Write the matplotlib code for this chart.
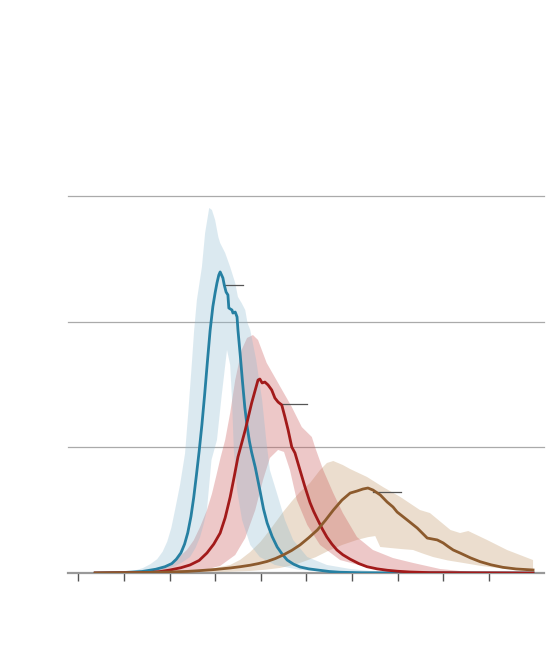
import matplotlib
matplotlib.use("Agg")
import matplotlib.pyplot as plt

# ---------------- data (x = day, y = value) ----------------
blue_x = [3.7, 10.0, 14.0, 17.0, 19.0, 20.5, 21.5, 22.5, 23.3, 24.0, 24.7, 25.3, 25.9, 26.5,
          27.1, 27.7, 28.3, 28.9, 29.5, 30.0, 30.4, 30.8, 31.1, 31.7, 32.0, 32.4, 32.8, 33.0,
          33.7, 33.9, 34.4, 34.8, 35.0, 35.5, 36.0, 36.5, 37.0, 37.5, 38.0, 38.8, 39.8, 40.6,
          41.4, 42.5, 43.6, 44.7, 45.8, 47.2, 48.6, 50.5, 52.4, 55.0, 57.4, 62.0, 99.7]
blue_y = [0, 0.04, 0.12, 0.30, 0.50, 0.75, 1.10, 1.60, 2.30, 3.20, 4.50, 6.00, 7.80, 9.70,
          11.8, 14.2, 16.8, 19.3, 21.2, 22.3, 23.07, 23.7, 23.95, 23.47, 22.91, 22.35, 22.12, 21.08,
          20.92, 20.68, 20.76, 20.37, 19.33, 17.34, 15.2, 13.2, 11.7, 10.5, 9.6, 8.4, 6.6, 5.1,
          3.98, 2.9, 2.07, 1.5, 1.03, 0.7, 0.48, 0.33, 0.24, 0.12, 0.06, 0.02, 0]

blue_up_x = [7.0, 10.0, 12.5, 14.2, 15.8, 17.3, 18.5, 19.5, 20.4, 21.2, 22.3, 23.4, 24.1, 24.9,
             25.4, 26.0, 27.1, 27.8, 28.7, 29.3, 30.0, 30.7, 31.1, 32.2, 33.3, 34.4, 35.0, 35.8,
             36.6, 37.1, 37.7, 39.0, 40.3, 41.2, 42.0, 43.8, 45.3, 47.1, 50.2, 54.5, 59.6, 66.2, 74.9]
blue_up_y = [0, 0.05, 0.2, 0.4, 0.7, 1.1, 1.7, 2.5, 3.6, 5.0, 7.0, 9.5, 12.73, 16.71,
             19.33, 21.72, 24.34, 27.05, 29.04, 28.88, 28.08, 26.73, 26.25, 25.46, 24.34, 23.07, 21.96, 21.48,
             20.92, 19.89, 19.33, 16.95, 13.76, 10.58, 8.19, 6.05, 4.22, 2.63, 1.27, 0.64, 0.32, 0.08, 0]
blue_lo_x = [11.3, 15.7, 18.5, 20.8, 22.8, 24.5, 25.7, 26.7, 27.5, 28.2, 29.2, 30.4, 31.4, 32.6,
             33.3, 33.7, 34.1, 34.8, 35.9, 37.7, 39.8, 43.1, 48.6, 57.4, 74.9]
blue_lo_y = [0, 0.08, 0.25, 0.48, 0.85, 1.27, 2.0, 2.86, 3.9, 5.01, 8.99, 10.58, 14.0, 17.74,
             16.55, 13.76, 9.79, 6.60, 4.22, 2.23, 1.27, 0.64, 0.24, 0.04, 0]

red_x = [3.7, 15.7, 18.0, 20.1, 22.5, 24.5, 26.5, 28.2, 29.7, 31.1, 32.2, 33.3, 34.2, 35.0,
         35.8, 36.6, 38.0, 39.4, 39.8, 40.3, 40.9, 41.6, 42.4, 43.1, 43.8, 44.6, 45.3, 46.0,
         46.8, 47.5, 48.6, 49.7, 50.8, 51.6, 52.4, 53.5, 54.5, 55.6, 56.7, 58.0, 59.6, 61.5,
         63.3, 65.5, 67.7, 70.0, 72.7, 77.0, 99.7]
red_y = [0, 0.04, 0.12, 0.24, 0.42, 0.64, 1.0, 1.59, 2.3, 3.18, 4.4, 6.05, 7.7, 9.23,
         10.3, 11.38, 13.52, 15.35, 15.43, 15.12, 15.19, 14.96, 14.56, 13.92, 13.60, 13.37, 12.41, 11.38,
         10.02, 9.55, 8.19, 6.84, 5.6, 4.9, 4.3, 3.5, 2.86, 2.3, 1.83, 1.45, 1.1, 0.75,
         0.5, 0.33, 0.22, 0.14, 0.08, 0.03, 0]

red_up_x = [11.3, 14.0, 15.7, 17.2, 18.6, 20.0, 21.2, 22.5, 23.8, 25.3, 26.7, 28.2, 29.3, 30.3,
            31.2, 32.2, 33.3, 34.4, 35.8, 37.0, 38.3, 39.4, 41.3, 43.8, 46.8, 49.0, 51.2, 51.9,
            53.7, 55.9, 58.0, 61.1, 64.6, 69.0, 73.4, 79.3, 85.9, 92.4]
red_up_y = [0, 0.08, 0.16, 0.3, 0.48, 0.72, 1.03, 1.4, 1.83, 2.6, 3.66, 5.0, 6.3, 7.8,
            9.2, 10.58, 12.73, 15.35, 17.74, 18.7, 18.93, 18.54, 16.71, 15.12, 13.21, 11.61, 10.82, 10.02,
            8.19, 6.36, 4.77, 2.86, 1.83, 1.19, 0.80, 0.32, 0.08, 0]
red_lo_x = [20.1, 26.7, 31.1, 34.4, 36.6, 38.8, 40.5, 42.0, 43.8, 45.1, 46.4, 47.9, 50.2, 53.0,
            57.4, 63.9, 72.7, 81.6]
red_lo_y = [0, 0.16, 0.56, 1.43, 2.78, 5.01, 7.40, 9.15, 9.79, 9.63, 8.19, 5.81, 3.82, 2.23,
            1.03, 0.40, 0.08, 0]

brown_x = [3.7, 15.0, 20.1, 24.0, 27.0, 30.0, 33.3, 35.5, 37.7, 39.5, 41.4, 43.2, 44.9, 46.8,
           48.6, 50.5, 52.4, 54.2, 55.9, 57.8, 59.6, 61.1, 62.4, 63.5, 64.6, 66.2, 67.7, 69.0,
           69.9, 72.1, 74.3, 76.5, 78.7, 80.0, 81.1, 82.2, 83.7, 86.0, 88.1, 90.5, 93.1, 96.0, 99.7]
brown_y = [0, 0.04, 0.08, 0.13, 0.2, 0.28, 0.40, 0.5, 0.62, 0.75, 0.92, 1.15, 1.43, 1.8,
           2.23, 2.8, 3.42, 4.2, 5.0, 5.8, 6.36, 6.52, 6.68, 6.76, 6.60, 6.21, 5.65, 5.25,
           4.85, 4.22, 3.58, 2.78, 2.63, 2.39, 2.1, 1.83, 1.59, 1.2, 0.9, 0.65, 0.45, 0.32, 0.24]

brown_up_x = [15.7, 22.0, 26.7, 30.0, 33.3, 35.5, 37.7, 40.0, 42.0, 44.9, 46.8, 48.6, 50.8, 53.0,
              54.5, 55.9, 58.0, 59.6, 63.3, 66.8, 70.6, 74.9, 77.1, 81.6, 83.7, 85.5, 89.6, 94.0, 99.7]
brown_up_y = [0, 0.1, 0.24, 0.4, 0.64, 1.05, 1.67, 2.5, 3.42, 4.85, 5.7, 6.44, 7.16, 8.19,
              8.75, 8.91, 8.59, 8.27, 7.64, 6.84, 6.05, 5.01, 4.77, 3.42, 3.18, 3.34, 2.63, 1.83, 1.03]
brown_lo_x = [26.7, 32.0, 37.7, 41.0, 44.2, 46.5, 48.6, 52.0, 55.2, 58.0, 61.1, 63.5, 65.1, 66.2,
              68.4, 71.0, 73.4, 75.5, 77.8, 81.0, 84.4, 88.0, 91.8, 95.5, 99.7]
brown_lo_y = [0, 0.08, 0.16, 0.26, 0.40, 0.58, 0.80, 1.25, 1.83, 2.25, 2.63, 2.85, 2.94, 2.07,
              1.99, 1.9, 1.83, 1.55, 1.27, 1.0, 0.80, 0.58, 0.40, 0.3, 0.24]

# label leader lines (x start, x end, y)
leader_x0 = [32.0, 44.6, 64.6]
leader_x1 = [36.0, 50.1, 70.7]
leader_y = [22.91, 13.45, 6.44]

x_ticks = [0, 10, 20, 30, 40, 50, 60, 70, 80, 90]
grid_y = [10, 20, 30]

# ---------------- styling ----------------
BLUE = "#2680a2"
RED = "#a21a1a"
BROWN = "#8c5a2d"
BLUE_BAND = "#8ab9d0"
RED_BAND = "#c95656"
BROWN_BAND = "#c6a073"

fig = plt.figure(figsize=(5.6, 6.56), dpi=100)
ax = fig.add_axes([68 / 560, 1 - 573 / 656, (544 - 68) / 560, (573 - 195) / 656])
ax.set_xlim(-2.26, 102.1)
ax.set_ylim(0, 30.07)

for gy in grid_y:
    ax.axhline(gy, color="#aaaaaa", lw=0.9, zorder=0, clip_on=False)


def band(xu, yu, xl, yl, color, alpha):
    xs = list(xu) + list(reversed(xl))
    ys = list(yu) + list(reversed(yl))
    ax.fill(xs, ys, color=color, alpha=alpha, lw=0, zorder=1)


band(brown_up_x, brown_up_y, brown_lo_x, brown_lo_y, BROWN_BAND, 0.35)
band(red_up_x, red_up_y, red_lo_x, red_lo_y, RED_BAND, 0.32)
band(blue_up_x, blue_up_y, blue_lo_x, blue_lo_y, BLUE_BAND, 0.30)

ax.axhline(0, color="#999999", lw=1.6, zorder=2, clip_on=False)

ax.plot(blue_x, blue_y, color=BLUE, lw=2.0, zorder=4, solid_joinstyle="round")
ax.plot(red_x, red_y, color=RED, lw=2.0, zorder=4, solid_joinstyle="round")
ax.plot(brown_x, brown_y, color=BROWN, lw=2.0, zorder=5, solid_joinstyle="round")

for x0, x1, y in zip(leader_x0, leader_x1, leader_y):
    ax.plot([x0, x1], [y, y], color="#555555", lw=0.9, zorder=3)

ax.set_xticks(x_ticks)
ax.set_xticklabels([])
ax.set_yticks([])
ax.tick_params(axis="x", length=6, width=1, color="#555555", direction="out")
for s in ax.spines.values():
    s.set_visible(False)
ax.patch.set_alpha(0)

fig.savefig("out.png", dpi=100)
